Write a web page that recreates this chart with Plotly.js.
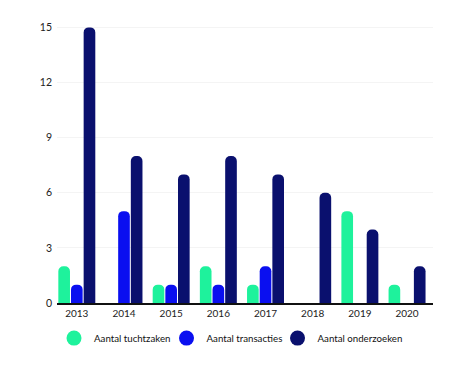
<!DOCTYPE html>
<html>
<head>
<meta charset="utf-8">
<script src="https://cdn.plot.ly/plotly-3.0.1.min.js"></script>
<style>html,body{margin:0;padding:0;background:#fff;}#chart{width:468px;height:374px;}</style>
</head>
<body>
<div id="chart"></div>
<script>
var years = ["2013","2014","2015","2016","2017","2018","2019","2020"];
var seriesNames = ["Aantal tuchtzaken","Aantal transacties","Aantal onderzoeken"];
var tuchtzaken = [2,0,1,2,1,0,5,1];
var transacties = [1,5,1,1,2,0,0,0];
var onderzoeken = [15,8,7,8,7,6,4,2];
var yTicks = [0,3,6,9,12,15];
var colors = ["#1ef29c","#0a0ff0","#0a106e"];

var values = [tuchtzaken, transacties, onderzoeken];
var legendIds = ["legend","legend2","legend3"];
var traces = [];
values.forEach(function(v,i){
  traces.push({type:"bar", x:years, y:v, name:seriesNames[i], showlegend:false,
    marker:{color:colors[i], cornerradius:6}, hoverinfo:"x+y"});
});
values.forEach(function(v,i){
  traces.push({type:"scatter", mode:"markers", x:[null], y:[null], name:seriesNames[i],
    legend:legendIds[i],
    marker:{color:colors[i], size:15, symbol:"circle"}, showlegend:true, hoverinfo:"skip"});
});

function leg(x){
  return {orientation:"h", xref:"container", yref:"container", x:x, xanchor:"left", y:0.096, yanchor:"middle",
    font:{size:9.7, color:"#111"}, bgcolor:"rgba(0,0,0,0)", itemclick:false, itemdoubleclick:false};
}

var layout = {
  width:468, height:374,
  margin:{l:57, r:35, t:9, b:71},
  paper_bgcolor:"#fff", plot_bgcolor:"#fff",
  font:{family:"Lato, 'Open Sans', sans-serif", size:10, color:"#222"},
  barmode:"group", bargap:0.195, bargroupgap:0.08,
  xaxis:{type:"category", range:[-0.42,7.55], showgrid:false, showline:true, linecolor:"#111", linewidth:1.5,
    ticks:"", tickfont:{size:10, color:"#222"}, fixedrange:true},
  yaxis:{range:[0,16], tickvals:yTicks, showgrid:true, gridcolor:"#f4f4f4", gridwidth:1, zeroline:false,
    showline:false, ticks:"", tickfont:{size:10.5, color:"#222"}, ticklabelstandoff:4, fixedrange:true},
  showlegend:true,
  legend:leg(0.1154),
  legend2:leg(0.3558),
  legend3:leg(0.593)
};
Plotly.newPlot("chart", traces, layout, {displayModeBar:false, staticPlot:true});
</script>
</body>
</html>
